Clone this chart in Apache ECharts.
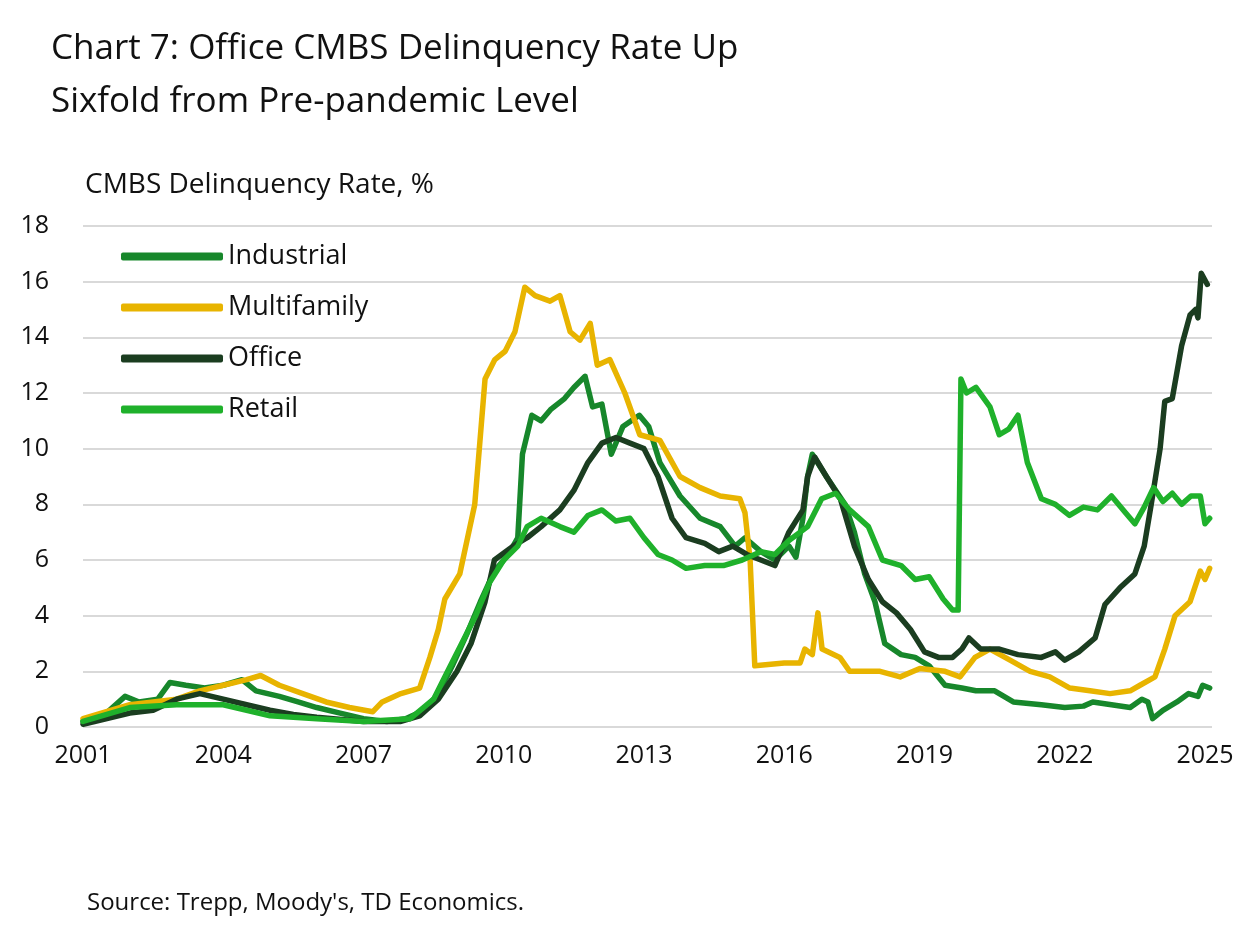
<!DOCTYPE html>
<html><head><meta charset="utf-8">
<script src="https://cdn.jsdelivr.net/npm/echarts@6/dist/echarts.min.js"></script>
<style>body{margin:0}#c{width:1240px;height:925px}</style></head>
<body><div id="c"></div>
<script>
const yTicks = [0,2,4,6,8,10,12,14,16,18];
const industrial = [[2001,0.2],[2001.5,0.5],[2001.9,1.1],[2002.2,0.9],[2002.6,1.0],[2002.86,1.6],[2003.2,1.5],[2003.6,1.4],[2004,1.5],[2004.4,1.7],[2004.7,1.3],[2005.2,1.1],[2005.6,0.9],[2006,0.7],[2006.5,0.5],[2007,0.3],[2007.5,0.2],[2007.9,0.3],[2008.3,0.6],[2008.6,1.2],[2008.9,2.2],[2009.2,3.3],[2009.5,4.5],[2009.8,5.6],[2010.1,6.2],[2010.3,6.8],[2010.4,9.8],[2010.6,11.2],[2010.8,11.0],[2011.0,11.4],[2011.3,11.8],[2011.5,12.2],[2011.74,12.6],[2011.9,11.5],[2012.1,11.6],[2012.3,9.8],[2012.55,10.8],[2012.9,11.2],[2013.1,10.8],[2013.34,9.5],[2013.77,8.3],[2014.2,7.5],[2014.63,7.2],[2014.95,6.5],[2015.16,6.8],[2015.5,6.3],[2015.8,6.0],[2016.1,6.5],[2016.25,6.1],[2016.4,7.5],[2016.5,9.0],[2016.6,9.8],[2016.9,9.0],[2017.3,8.0],[2017.5,7.0],[2017.72,5.5],[2017.94,4.5],[2018.15,3.0],[2018.5,2.6],[2018.8,2.5],[2019.1,2.2],[2019.44,1.5],[2019.8,1.4],[2020.1,1.3],[2020.5,1.3],[2020.9,0.9],[2021.5,0.8],[2022,0.7],[2022.4,0.75],[2022.6,0.9],[2023,0.8],[2023.4,0.7],[2023.65,1.0],[2023.78,0.9],[2023.88,0.3],[2024.1,0.6],[2024.4,0.9],[2024.65,1.2],[2024.85,1.1],[2024.95,1.5],[2025.1,1.4]];
const multifamily = [[2001,0.3],[2002,0.8],[2003,1.0],[2003.5,1.3],[2004,1.5],[2004.5,1.7],[2004.8,1.85],[2005.2,1.5],[2005.7,1.2],[2006.2,0.9],[2006.7,0.7],[2007.2,0.55],[2007.4,0.9],[2007.8,1.2],[2008.2,1.4],[2008.42,2.5],[2008.6,3.5],[2008.74,4.6],[2009.06,5.5],[2009.38,8.0],[2009.6,12.5],[2009.81,13.2],[2010.03,13.5],[2010.24,14.2],[2010.45,15.8],[2010.67,15.5],[2010.99,15.3],[2011.2,15.5],[2011.42,14.2],[2011.63,13.9],[2011.85,14.5],[2012.0,13.0],[2012.27,13.2],[2012.59,12.0],[2012.91,10.5],[2013.34,10.3],[2013.77,9.0],[2014.2,8.6],[2014.63,8.3],[2015.05,8.2],[2015.16,7.7],[2015.27,6.0],[2015.37,2.2],[2016.0,2.3],[2016.34,2.3],[2016.44,2.8],[2016.6,2.6],[2016.72,4.1],[2016.81,2.8],[2017.19,2.5],[2017.4,2.0],[2018.05,2.0],[2018.48,1.8],[2018.9,2.1],[2019.44,2.0],[2019.76,1.8],[2020.08,2.5],[2020.4,2.8],[2020.83,2.4],[2021.26,2.0],[2021.68,1.8],[2022.11,1.4],[2022.54,1.3],[2022.97,1.2],[2023.4,1.3],[2023.61,1.5],[2023.93,1.8],[2024.14,2.8],[2024.36,4.0],[2024.68,4.5],[2024.9,5.6],[2025.0,5.3],[2025.1,5.7]];
const office = [[2001,0.1],[2002,0.5],[2002.5,0.6],[2003,1.0],[2003.5,1.2],[2004,1.0],[2004.5,0.8],[2005,0.6],[2005.5,0.45],[2006,0.35],[2007,0.2],[2007.8,0.2],[2008.2,0.4],[2008.6,1.0],[2009,2.0],[2009.3,3.0],[2009.6,4.5],[2009.8,6.0],[2010.2,6.5],[2010.5,6.8],[2010.8,7.2],[2011.2,7.8],[2011.5,8.5],[2011.8,9.5],[2012.1,10.2],[2012.4,10.4],[2012.7,10.2],[2013.0,10.0],[2013.3,9.0],[2013.6,7.5],[2013.9,6.8],[2014.3,6.6],[2014.6,6.3],[2014.9,6.5],[2015.2,6.2],[2015.5,6.0],[2015.8,5.8],[2016.1,7.0],[2016.4,7.8],[2016.5,9.0],[2016.65,9.7],[2016.9,9.0],[2017.2,8.2],[2017.5,6.5],[2017.8,5.3],[2018.1,4.5],[2018.4,4.1],[2018.7,3.5],[2019.0,2.7],[2019.3,2.5],[2019.6,2.5],[2019.8,2.8],[2019.95,3.2],[2020.2,2.8],[2020.6,2.8],[2021.0,2.6],[2021.5,2.5],[2021.8,2.7],[2022.0,2.4],[2022.3,2.7],[2022.65,3.2],[2022.86,4.4],[2023.18,5.0],[2023.5,5.5],[2023.7,6.5],[2023.85,8.0],[2024.04,10.0],[2024.14,11.7],[2024.3,11.8],[2024.5,13.7],[2024.68,14.8],[2024.8,15.0],[2024.85,14.7],[2024.92,16.3],[2025.05,15.9]];
const retail = [[2001,0.2],[2002,0.7],[2003,0.8],[2004,0.8],[2004.5,0.6],[2005,0.4],[2006,0.3],[2007,0.2],[2008,0.3],[2008.5,1.0],[2008.8,2.0],[2009.1,3.0],[2009.4,4.0],[2009.7,5.2],[2010,6.0],[2010.3,6.5],[2010.5,7.2],[2010.8,7.5],[2011.2,7.2],[2011.5,7.0],[2011.8,7.6],[2012.1,7.8],[2012.4,7.4],[2012.7,7.5],[2013.0,6.8],[2013.3,6.2],[2013.6,6.0],[2013.9,5.7],[2014.3,5.8],[2014.7,5.8],[2015.1,6.0],[2015.5,6.3],[2015.8,6.2],[2016.1,6.7],[2016.5,7.2],[2016.8,8.2],[2017.1,8.4],[2017.4,7.8],[2017.8,7.2],[2018.1,6.0],[2018.5,5.8],[2018.8,5.3],[2019.1,5.4],[2019.4,4.6],[2019.6,4.2],[2019.72,4.2],[2019.78,12.5],[2019.9,12.0],[2020.1,12.2],[2020.4,11.5],[2020.6,10.5],[2020.8,10.7],[2021.0,11.2],[2021.2,9.5],[2021.5,8.2],[2021.8,8.0],[2022.1,7.6],[2022.4,7.9],[2022.7,7.8],[2023.0,8.3],[2023.3,7.7],[2023.5,7.3],[2023.7,7.9],[2023.9,8.6],[2024.1,8.1],[2024.3,8.4],[2024.5,8.0],[2024.7,8.3],[2024.9,8.3],[2025.0,7.3],[2025.1,7.5]];
const names = ['Industrial','Multifamily','Office','Retail'];
const colors = ['#17872b','#e8b400','#1b3d20','#1fb12b'];
const F = '"Open Sans", Inter, sans-serif';
const chart = echarts.init(document.getElementById('c'));
chart.setOption({
  animation:false,
  title:[
    {text:'Chart 7: Office CMBS Delinquency Rate Up\nSixfold from Pre-pandemic Level',left:46,top:18,textStyle:{fontFamily:F,fontSize:35,fontWeight:'normal',color:'#111',lineHeight:53}},
    {text:'CMBS Delinquency Rate, %',left:80,top:166,textStyle:{fontFamily:F,fontSize:28,fontWeight:'normal',color:'#111'}},
    {text:"Source: Trepp, Moody's, TD Economics.",left:82,top:886,textStyle:{fontFamily:F,fontSize:24,fontWeight:'normal',color:'#111'}}
  ],
  legend:{orient:'vertical',left:116,top:238,itemWidth:102,itemHeight:8,itemGap:24,icon:'roundRect',
    textStyle:{fontFamily:F,fontSize:27,color:'#111'},data:names},
  grid:{left:83,right:28,top:226,bottom:198},
  xAxis:{type:'value',min:2001,max:2025.15,interval:3,
    axisLine:{show:false},axisTick:{show:false},splitLine:{show:false},
    axisLabel:{fontFamily:F,fontSize:25,color:'#111',margin:16,showMaxLabel:false,
      formatter:v=>Number.isInteger(v)&&(v-2001)%3===0?String(v):''}},
  yAxis:{type:'value',min:yTicks[0],max:yTicks[yTicks.length-1],interval:2,
    axisLine:{show:false},axisTick:{show:false},
    splitLine:{lineStyle:{color:'#d9d9d9',width:2}},
    axisLabel:{fontFamily:F,fontSize:25,color:'#111',margin:34}},
  series:[industrial,multifamily,office,retail].map((d,i)=>({
    name:names[i],type:'line',data:d,showSymbol:false,symbol:'none',
    lineStyle:{width:5.5,color:colors[i],cap:'round',join:'round'},itemStyle:{color:colors[i]},z:[2,3,4,5][i]
  }))
});
</script></body></html>
